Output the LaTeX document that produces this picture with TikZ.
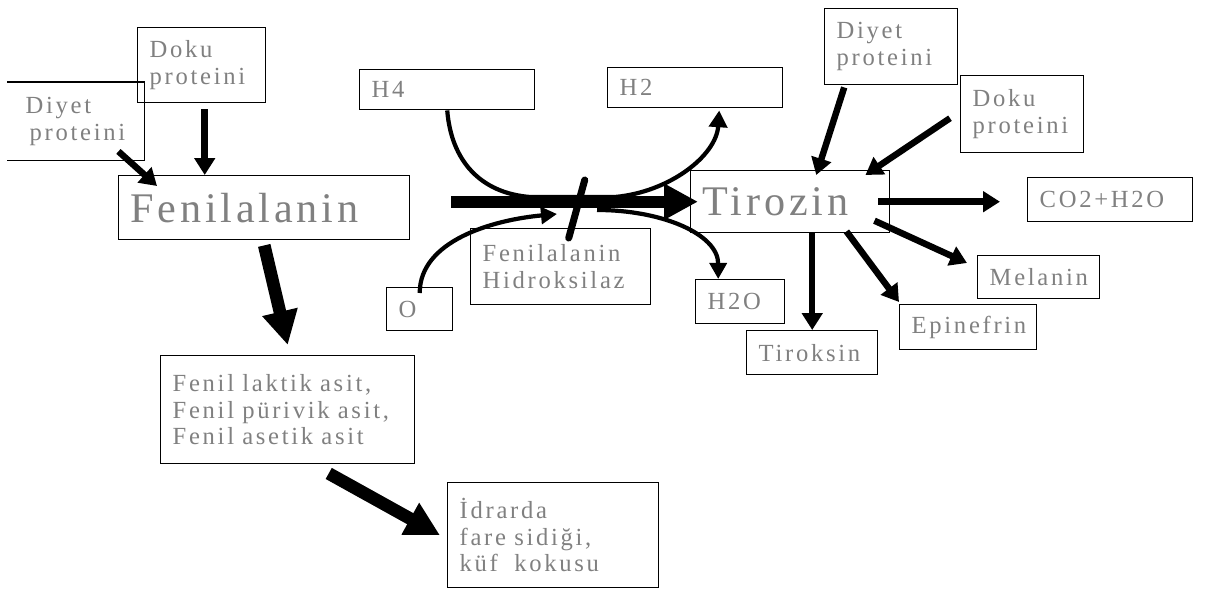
\documentclass[tikz,border=0pt]{standalone}
\usepackage{fontspec}
\setmainfont{Liberation Serif}
\newfontfamily\smallfnt[LetterSpace=11]{Liberation Serif}
\newfontfamily\bigfnt[LetterSpace=9]{Liberation Serif}
\usetikzlibrary{arrows.meta}

\begin{document}
\begin{tikzpicture}[x=0.025cm,y=-0.025cm,
  box/.style={draw,line width=1pt,anchor=north west,align=left,inner xsep=0.3cm,inner ysep=0pt,
              text=gray,font={\fontsize{17.5}{19}\selectfont\smallfnt\fontdimen2\font=5pt}},
  bigbox/.style={box,font=\fontsize{30}{34}\selectfont\bigfnt},
  arr/.style={-{Triangle[length=0.42cm,width=0.5cm]},line width=4.6pt},
  fatarr/.style={-{Triangle[length=0.85cm,width=0.85cm]},line width=9pt},
  curve/.style={line width=3pt}]
  \useasboundingbox (0,0) rectangle (1216,589);

  % phenylalanine side
  \node[box,text width=2.6cm,minimum height=1.875cm] (dokuA) at (137,27) {Doku\\proteini};
  \node[box,draw=none,text width=2.8cm,minimum height=1.925cm] (diyetA) at (7,82) {\hspace*{0.15cm}Diyet\\\hspace*{0.25cm}proteini};
  \draw[line width=1pt] (diyetA.north west) -- (diyetA.north east) -- (diyetA.south east) -- (diyetA.south west);
  \node[bigbox,text width=6.675cm,minimum height=1.6cm] (fenA) at (118,175) {Fenilalanin};
  \node[box,text width=5.75cm,minimum height=2.7cm] (fenil) at (160,355) {Fenil laktik asit,\\Fenil pürivik asit,\\Fenil asetik asit};
  \node[box,text width=4.675cm,minimum height=2.625cm] (idrar) at (447,482) {İdrarda\\fare sidiği,\\küf\ \ kokusu};

  % hydroxylase step
  \node[box,text width=3.775cm,minimum height=1cm] (h4) at (359,69) {H4};
  \node[box,text width=3.775cm,minimum height=1cm] (h2) at (607,67) {H2};
  \node[box,text width=3.9cm,minimum height=1.9cm] (hidro) at (470,228) {Fenilalanin\\Hidroksilaz};
  \node[box,text width=1.05cm,minimum height=1.075cm] (o) at (386,287) {O};
  \node[box,text width=1.625cm,minimum height=1.1cm] (h2o) at (695,279) {H2O};

  % tyrosine side
  \node[bigbox,text width=4.375cm,minimum height=1.55cm] (tir) at (690,170) {Tirozin};
  \node[box,text width=2.725cm,minimum height=1.9cm] (diyetB) at (824,8) {Diyet\\proteini};
  \node[box,text width=2.475cm,minimum height=1.925cm] (dokuB) at (960,75) {Doku\\proteini};
  \node[box,text width=3.525cm,minimum height=1.1cm] (co2) at (1027,177) {CO2+H2O};
  \node[box,text width=2.45cm,minimum height=1.075cm] (melanin) at (977,255) {Melanin};
  \node[box,text width=2.825cm,minimum height=1.125cm] (epi) at (899,304) {Epinefrin};
  \node[box,text width=2.675cm,minimum height=1.1cm] (tirok) at (746,330) {Tiroksin};

  \coordinate (j1) at (530,197);
  \coordinate (j2) at (615,197);
  \coordinate (j3) at (597,210);
  \coordinate (oEnd) at (557,214);

  % arrows
  \draw[arr] ([xshift=0.075cm,yshift=-0.15cm]dokuA.south) -- ([xshift=0.075cm]dokuA.south |- fenA.north);
  \draw[arr] ([xshift=-0.65cm,yshift=0.225cm]diyetA.south east) -- ([xshift=0.975cm,yshift=-0.275cm]fenA.north west);
  \draw[fatarr] ([yshift=-0.125cm]fenA.south) -- ([yshift=0.25cm]fenil.north);
  \draw[fatarr] ([xshift=1.025cm,yshift=-0.225cm]fenil.south) -- ([xshift=-0.175cm]idrar.west);

  \draw[curve,-{Triangle[length=0.42cm,width=0.45cm]}] (h4.south) .. controls +(4,50) and +(-50,-4) .. (j1) -- (j2)
    .. controls +(55,-5) and +(-3,45) .. ([xshift=0.6cm,yshift=-0.05cm]h2.south);
  \draw[curve,-{Triangle[length=0.4cm,width=0.42cm]}] ([yshift=-0.15cm]o.north) .. controls +(0,-52) and +(-65,6) .. (oEnd);
  \draw[curve,-{Triangle[length=0.4cm,width=0.42cm]}] (j3) .. controls +(65,0) and +(0,-45) .. ([xshift=-0.55cm]h2o.north);
  \draw[fatarr,line width=8.5pt] ([xshift=1.025cm]fenA.east |- tir.west) -- ([xshift=0.2cm]tir.west);
  \draw[line width=5pt,line cap=round] ([xshift=0.2cm,yshift=-0.25cm]hidro.north) -- ++(16,-58);

  \draw[arr] ([xshift=-0.3cm]tir.east) -- ([xshift=-0.675cm]co2.west |- tir.east);
  \draw[arr] ([xshift=-0.4cm,yshift=-0.475cm]tir.east) -- ([xshift=-0.25cm,yshift=-0.2cm]melanin.north west);
  \draw[arr] ([xshift=-1.1cm,yshift=0.05cm]tir.south east) -- ([yshift=0.05cm]epi.north west);
  \draw[arr] (tirok.north |- tir.south) -- (tirok.north);
  \draw[arr] ([xshift=-1.175cm,yshift=-0.05cm]diyetB.south) -- ([xshift=0.65cm,yshift=-0.125cm]tir.north);
  \draw[arr] ([xshift=-0.25cm,yshift=-0.1cm]dokuB.west) -- ([xshift=-0.625cm,yshift=-0.125cm]tir.north east);
\end{tikzpicture}
\end{document}
